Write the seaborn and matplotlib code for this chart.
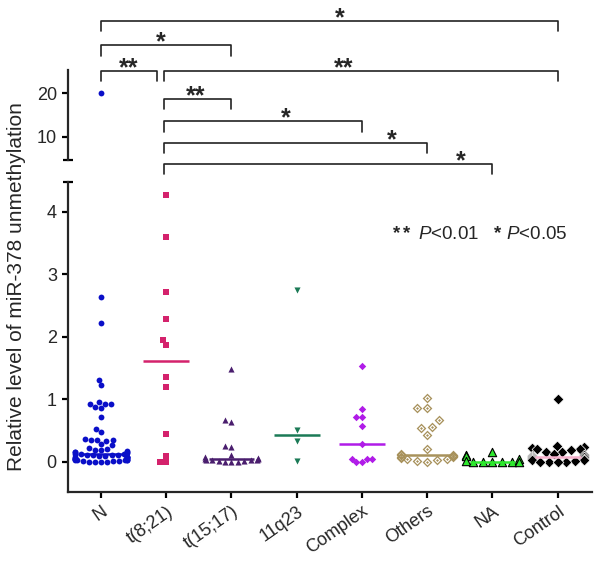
import matplotlib
matplotlib.use("Agg")
import matplotlib.pyplot as plt
import matplotlib.transforms as mtransforms
import numpy as np
import pandas as pd
import seaborn as sns
from matplotlib.path import Path

groups = ["N", "t(8;21)", "t(15;17)", "11q23", "Complex", "Others", "NA", "Control"]

n_values = [20.0, 2.63, 2.22, 1.31, 1.22, 0.96, 0.93, 0.93, 0.93, 0.87, 0.86, 0.72,
            0.53, 0.48, 0.37, 0.35, 0.35, 0.35, 0.33, 0.28, 0.26, 0.22, 0.20, 0.19,
            0.18, 0.17, 0.16, 0.15, 0.15, 0.14, 0.13, 0.12, 0.12, 0.11, 0.11, 0.10,
            0.10, 0.09, 0.09, 0.08, 0.08, 0.07, 0.07, 0.06, 0.06, 0.05, 0.05, 0.04,
            0.04, 0.03, 0.03, 0.02, 0.02, 0.02, 0.01, 0.01, 0.01, 0.0, 0.0, 0.0, 0.0]
t821_values = [4.27, 3.59, 2.72, 2.28, 1.94, 1.87, 1.35, 1.20, 0.45, 0.09, 0.0, 0.0]
t1517_values = [1.49, 0.67, 0.64, 0.25, 0.24, 0.10, 0.08, 0.06, 0.05, 0.04, 0.03,
                0.03, 0.02, 0.02, 0.01, 0.01, 0.0, 0.0, 0.0]
q23_values = [2.74, 0.51, 0.33, 0.01]
complex_values = [1.53, 0.84, 0.72, 0.72, 0.57, 0.29, 0.04, 0.04, 0.04, 0.0, 0.0]
others_values = [1.02, 0.86, 0.86, 0.67, 0.56, 0.54, 0.42, 0.20, 0.12, 0.11, 0.10,
                 0.09, 0.09, 0.08, 0.07, 0.06, 0.05, 0.04, 0.02, 0.01, 0.0]
na_values = [0.16, 0.10, 0.09, 0.05, 0.01, 0.0, 0.0, 0.0, 0.0, 0.0, 0.0]
control_values = [1.0, 0.25, 0.24, 0.22, 0.20, 0.20, 0.18, 0.16, 0.15, 0.12, 0.10,
                  0.09, 0.08, 0.07, 0.07, 0.06, 0.05, 0.04, 0.03, 0.02, 0.01, 0.0,
                  0.0, 0.0, 0.0]

group_values = [n_values, t821_values, t1517_values, q23_values, complex_values,
                others_values, na_values, control_values]

# significance brackets: (group a, group b, label)
comparisons = [("N", "Control", "*"), ("N", "t(15;17)", "*"), ("N", "t(8;21)", "**"),
               ("t(8;21)", "Control", "**"), ("t(8;21)", "t(15;17)", "**"),
               ("t(8;21)", "Complex", "*"), ("t(8;21)", "Others", "*"),
               ("t(8;21)", "NA", "*")]
bracket_levels = [36.7, 31.1, 25.2, 25.2, 18.7, 13.6, 8.6, 3.7]
star_x = [3.66, 0.92, 0.43, 3.72, 1.45, 2.83, 4.45, 5.52]

df = pd.DataFrame({
    "group": [g for g, vals in zip(groups, group_values) for _ in vals],
    "value": [v for vals in group_values for v in vals],
})


def _diamond(s, reverse=False):
    pts = [(0, s), (s, 0), (0, -s), (-s, 0)]
    if reverse:
        pts = pts[::-1]
    return pts + [pts[0]]


ring_codes = ([Path.MOVETO] + [Path.LINETO] * 3 + [Path.CLOSEPOLY]) * 3
ring_marker = Path(_diamond(1.0) + _diamond(0.62, True) + _diamond(0.3), ring_codes)

styles = {
    "N": dict(color="#0A0FC8", marker="o", size=4.2, edgecolor="#0A0FC8", linewidth=0),
    "t(8;21)": dict(color="#D4226C", marker="s", size=4.0, edgecolor="#D4226C", linewidth=0),
    "t(15;17)": dict(color="#4A1E6E", marker="^", size=4.4, edgecolor="#4A1E6E", linewidth=0),
    "11q23": dict(color="#1B7A56", marker="v", size=4.4, edgecolor="#1B7A56", linewidth=0),
    "Complex": dict(color="#B01CE8", marker="D", size=3.8, edgecolor="#B01CE8", linewidth=0),
    "Others": dict(color="#A8925C", marker=ring_marker, size=7.0, edgecolor="#A8925C", linewidth=0),
    "NA": dict(color="#2EE82E", marker="^", size=6.0, edgecolor="black", linewidth=0.8),
    "Control": dict(color="black", marker="D", size=5.5, edgecolor="white", linewidth=0.5),
}
median_colors = {"N": "#0A0FC8", "t(8;21)": "#D4226C", "t(15;17)": "#4A1E6E",
                 "11q23": "#1B7A56", "Complex": "#B01CE8", "Others": "#A8925C",
                 "NA": "#2EE82E", "Control": "#F4B0CC"}

sns.set_style("ticks")
plt.rcParams["font.family"] = ["Liberation Sans", "DejaVu Sans"]
plt.rcParams["mathtext.fontset"] = "custom"
plt.rcParams["mathtext.rm"] = "Liberation Sans"
plt.rcParams["mathtext.it"] = "Liberation Sans:italic"
plt.rcParams["mathtext.bf"] = "Liberation Sans:bold"

fig = plt.figure(figsize=(6, 5.76), dpi=100)
lo = fig.add_axes([0.1133, 0.1464, 0.8733, 0.5382])
hi = fig.add_axes([0.1133, 0.7222, 0.8733, 0.15625])

break_at = 4.5
for g in groups:
    sub = df[df["group"] == g]
    low = sub[sub["value"] <= break_at]
    high = sub[sub["value"] > break_at]
    sns.swarmplot(data=low, x="group", y="value", order=groups, ax=lo,
                  warn_thresh=1, **styles[g])
    if not high.empty:
        sns.swarmplot(data=high, x="group", y="value", order=groups, ax=hi,
                      warn_thresh=1, **styles[g])

for i, (g, vals) in enumerate(zip(groups, group_values)):
    med = float(np.median(vals))
    lo.hlines(med, i - 0.35, i + 0.35, color=median_colors[g], linewidth=1.8, zorder=5)

xlim = (-0.505, 7.525)
lo.set_xlim(*xlim)
hi.set_xlim(*xlim)
lo.set_ylim(-0.48, 4.48)
hi.set_ylim(4.63, 25.37)
lo.set_yticks([0, 1, 2, 3, 4])
hi.set_yticks([10, 20])
lo.set_xticks(range(len(groups)))
lo.set_xticklabels(groups, rotation=35, ha="right", rotation_mode="anchor")
shift = mtransforms.ScaledTranslation(5 / 72, 0, fig.dpi_scale_trans)
for lbl in lo.get_xticklabels():
    lbl.set_transform(lbl.get_transform() + shift)
lo.set_xlabel("")
lo.set_ylabel("")
hi.set_xlabel("")
hi.set_ylabel("")

for ax in (lo, hi):
    for side in ("top", "right"):
        ax.spines[side].set_visible(False)
    for side in ("left", "bottom"):
        ax.spines[side].set_linewidth(1.6)
    ax.tick_params(axis="both", length=4.5, width=1.6, labelsize=13, color="black")
hi.spines["bottom"].set_visible(False)
hi.tick_params(axis="x", bottom=False, labelbottom=False)

# break caps on the y axis
hi.plot([-0.009, 0.009], [0, 0], transform=hi.transAxes, color="black",
        linewidth=1.6, clip_on=False, solid_capstyle="butt")
lo.plot([-0.009, 0.009], [1, 1], transform=lo.transAxes, color="black",
        linewidth=1.6, clip_on=False, solid_capstyle="butt")

drop = 2.4
for (a, b, label), level, sx in zip(comparisons, bracket_levels, star_x):
    x1 = groups.index(a)
    x2 = groups.index(b)
    if a == "t(8;21)":
        x1 -= 0.03
    if (a, b) == ("N", "t(8;21)"):
        x2 -= 0.14
    hi.plot([x1, x1, x2, x2], [level - drop, level, level, level - drop],
            color="#222222", linewidth=1.2, clip_on=False)
    hi.annotate(label, xy=(sx, level), xytext=(0, -3), textcoords="offset points",
                ha="center", va="baseline", fontsize=18, fontweight="bold",
                annotation_clip=False)

lo.text(4.46, 3.63, r"$\mathbf{**}$ $\it{P}$<0.01   $\mathbf{*}$ $\it{P}$<0.05",
        fontsize=13.5, ha="left", va="center")

fig.text(17 / 600, 1 - 287 / 576, "Relative level of miR-378 unmethylation",
         rotation=90, ha="center", va="center", fontsize=15)

fig.savefig("out.png", dpi=100)
plt.close(fig)
